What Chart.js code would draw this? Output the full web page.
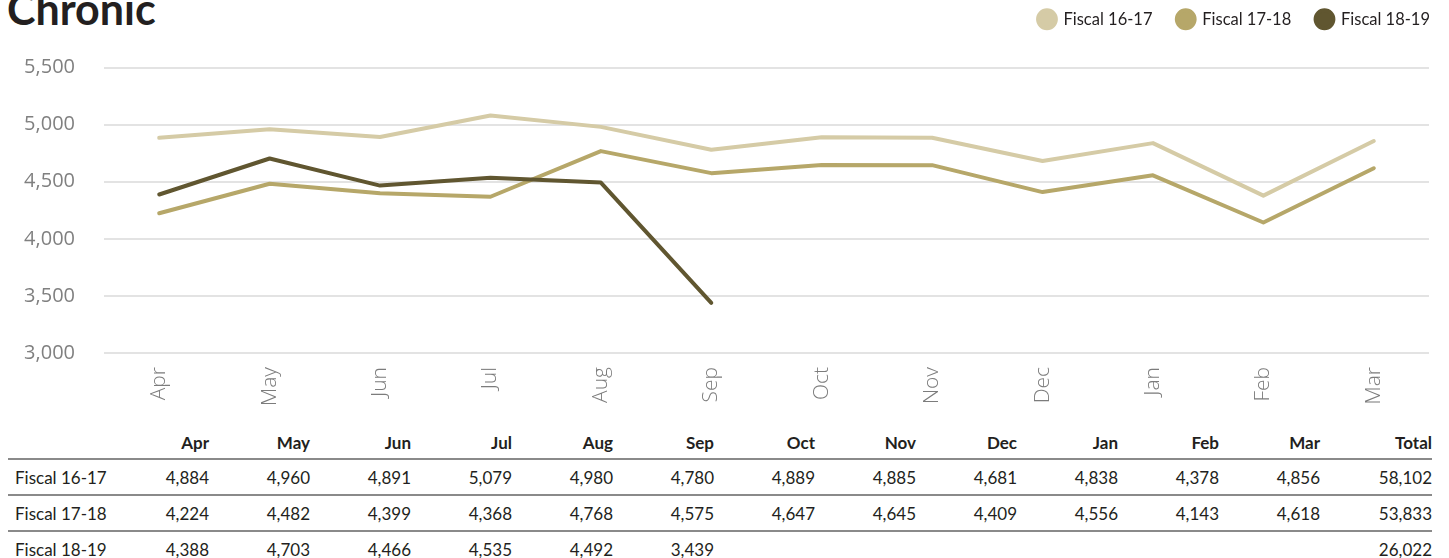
<!DOCTYPE html>
<html>
<head>
<meta charset="utf-8">
<script src="https://cdn.jsdelivr.net/npm/chart.js@4/dist/chart.umd.min.js"></script>
<style>
    body {
        margin: 0;
        background: #fff;
        font-family: Lato, 'Open Sans', sans-serif;
        width: 1449px;
        height: 558px;
        overflow: hidden;
        position: relative;
    }
    h1 {
        position: absolute;
        left: 7px;
        top: -12px;
        margin: 0;
        font-size: 43px;
        line-height: 42px;
        font-weight: 700;
        color: #231f20;
    }
    .chart-box {
        position: absolute;
        left: 0;
        top: 0;
        width: 1449px;
        height: 415px;
    }
    table {
        position: absolute;
        left: 8px;
        top: 415px;
        width: 1424px;
        border-collapse: collapse;
        table-layout: fixed;
        font-size: 17px;
        color: #231f20;
    }
    th, td {
        text-align: right;
        padding: 0;
        white-space: nowrap;
    }
    th {
        font-weight: 700;
        height: 38px;
        vertical-align: bottom;
        padding-bottom: 5px;
        border-bottom: 2px solid #8a8a8a;
    }
    td {
        height: 34px;
        vertical-align: middle;
    }
    tr.row td {
        border-bottom: 2px solid #8a8a8a;
    }
    td.name {
        text-align: left;
        padding-left: 7px;
    }
</style>
</head>
<body>
<h1>Chronic</h1>
<div class="chart-box"><canvas id="chronicChart"></canvas></div>
<table id="chronicTable"></table>

<script>
const months = ['Apr', 'May', 'Jun', 'Jul', 'Aug', 'Sep', 'Oct', 'Nov', 'Dec', 'Jan', 'Feb', 'Mar'];
const seriesNames = ['Fiscal 16-17', 'Fiscal 17-18', 'Fiscal 18-19'];
const fiscal1617 = [4884, 4960, 4891, 5079, 4980, 4780, 4889, 4885, 4681, 4838, 4378, 4856];
const fiscal1718 = [4224, 4482, 4399, 4368, 4768, 4575, 4647, 4645, 4409, 4556, 4143, 4618];
const fiscal1819 = [4388, 4703, 4466, 4535, 4492, 3439, null, null, null, null, null, null];
const totals = [58102, 53833, 26022];
const yTicks = [3000, 3500, 4000, 4500, 5000, 5500];

const colors = ['#d5cba6', '#b6a769', '#605630'];
const allSeries = [fiscal1617, fiscal1718, fiscal1819];

const fmt = v => v == null ? '' : v.toLocaleString('en-US');

// move the legend up into the title row and out to the right edge
const legendShift = {
    id: 'legendShift',
    afterLayout(chart) {
        const lg = chart.legend;
        lg.top -= 30;
        lg.bottom -= 30;
        lg.left += 26;
        lg.right += 26;
    }
};

const ctx = document.getElementById('chronicChart').getContext('2d');
const chart = new Chart(ctx, {
    type: 'line',
    data: {
        labels: months,
        datasets: allSeries.map((data, i) => ({
            label: seriesNames[i],
            data: data,
            borderColor: colors[i],
            backgroundColor: colors[i],
            borderWidth: 4,
            borderCapStyle: 'round',
            borderJoinStyle: 'round',
            pointRadius: 0,
            tension: 0,
            order: 3 - i
        }))
    },
    options: {
        responsive: true,
        maintainAspectRatio: false,
        animation: false,
        layout: {
            padding: { top: 16, right: 20, bottom: 2, left: 0 }
        },
        scales: {
            x: {
                offset: true,
                grid: { display: false, drawTicks: false },
                border: { display: false },
                ticks: {
                    minRotation: 90,
                    maxRotation: 90,
                    padding: 14,
                    color: '#7c7c7c',
                    font: { family: 'Open Sans', size: 21, weight: 300 }
                },
                afterFit: scale => { scale.height = 60; }
            },
            y: {
                min: 3000,
                max: 5500,
                afterBuildTicks: scale => {
                    scale.ticks = yTicks.map(v => ({ value: v }));
                },
                grid: { color: '#e3e3e3', lineWidth: 2, drawTicks: false },
                border: { display: false },
                ticks: {
                    padding: 29,
                    color: '#808080',
                    font: { family: 'Open Sans', size: 20 },
                    callback: v => fmt(v)
                },
                afterFit: scale => { scale.width = 104; }
            }
        },
        plugins: {
            tooltip: { enabled: false },
            legend: {
                position: 'top',
                align: 'end',
                labels: {
                    usePointStyle: true,
                    pointStyle: 'circle',
                    boxWidth: 18,
                    boxHeight: 12.6,
                    padding: 25,
                    color: '#231f20',
                    font: { family: 'Lato', size: 16.5 },
                    sort: (a, b) => a.datasetIndex - b.datasetIndex
                }
            }
        }
    },
    plugins: [legendShift]
});

// table under the chart, built from the same arrays
const table = document.getElementById('chronicTable');
let html = '<colgroup><col style="width:100px">';
months.forEach(() => { html += '<col style="width:101px">'; });
html += '<col style="width:112px"></colgroup>';
html += '<tr><th></th>' + months.map(m => `<th>${m}</th>`).join('') + '<th>Total</th></tr>';
allSeries.forEach((data, i) => {
    html += `<tr class="${i < allSeries.length - 1 ? 'row' : ''}"><td class="name">${seriesNames[i]}</td>`;
    html += data.map(v => `<td>${fmt(v)}</td>`).join('');
    html += `<td>${fmt(totals[i])}</td></tr>`;
});
table.innerHTML = html;
</script>
</body>
</html>
